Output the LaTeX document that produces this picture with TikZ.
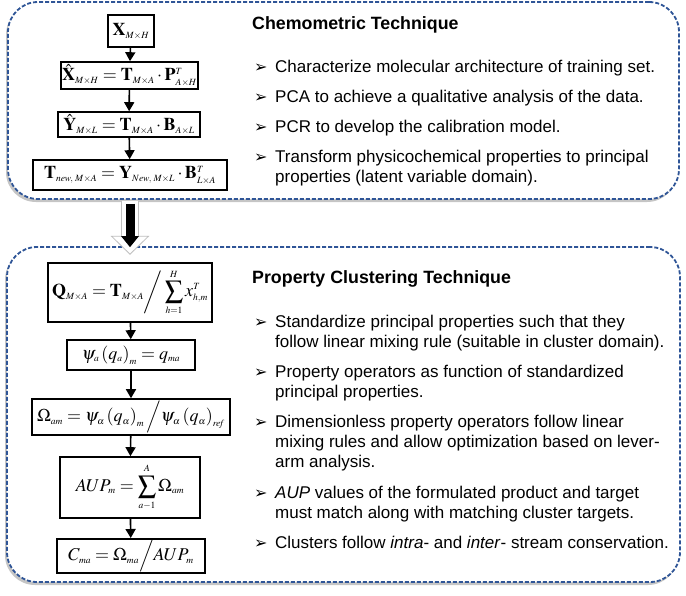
\documentclass[tikz,border=0pt]{standalone}
\usepackage{mathptmx}
\usepackage[no-math]{fontspec}
\setmainfont{Liberation Sans}
\newfontfamily\dejavu{DejaVu Sans}
\usetikzlibrary{arrows.meta,shadows,calc}
\definecolor{dashblue}{RGB}{47,85,151}
\DeclareMathSizes{18}{18}{9.5}{7}
\begin{document}
\begin{tikzpicture}[x=1pt,y=-1pt,
  container/.style={draw=dashblue, line width=1.8pt, dash pattern=on 4pt off 2pt,
    rounded corners=30pt, fill=white, inner sep=0pt,
    drop shadow={shadow xshift=-2pt, shadow yshift=-3pt, fill=black!50, opacity=0.45}},
  fbox/.style={draw=black, line width=1.6pt, fill=white, inner sep=1pt,
    font=\fontsize{18}{21}\selectfont},
  flow/.style={-{Triangle[width=10pt,length=9pt]}, line width=1.6pt},
  halo/.style={fill=white},
  halorim/.style={draw=black!25, line width=0.8pt},
  head/.style={anchor=base west, inner sep=0pt, font=\fontsize{17.8}{20}\selectfont\bfseries},
  item/.style={anchor=base west, inner sep=0pt, font=\fontsize{17}{20}\selectfont},
  bul/.style={anchor=base west, inner sep=0pt, font=\dejavu\fontsize{16}{20}\selectfont}]
\useasboundingbox (0,0) rectangle (686,595);
\fill[white] (0,0) rectangle (686,595);

% containers
\node[container, minimum width=671pt, minimum height=197pt] (chem) at (343.5,100.5) {};
\node[container, minimum width=673pt, minimum height=335pt] (prop) at (343.5,414.5) {};

% top formula boxes
\node[fbox, minimum width=46pt, minimum height=32pt] (t1) at (131,31) {$\mathbf{X}_{M\times H}$};
\node[fbox, minimum width=135pt, minimum height=27pt] (t2) at (129.5,75.5) {$\hat{\mathbf{X}}_{M\times H}=\mathbf{T}_{M\times A}\cdot\mathbf{P}^{T}_{A\times H}$};
\node[fbox, minimum width=142pt, minimum height=25pt] (t3) at (129,124.5) {$\hat{\mathbf{Y}}_{M\times L}=\mathbf{T}_{M\times A}\cdot\mathbf{B}_{A\times L}$};
\node[fbox, minimum width=194pt, minimum height=30pt] (t4) at (130,175) {$\mathbf{T}_{new,\;M\times A}=\mathbf{Y}_{New,\;M\times L}\cdot\mathbf{B}^{T}_{L\times A}$};

\draw[flow] (t1) -- (t2);
\draw[flow] (t2) -- (t3);
\draw[flow] (t3) -- (t4);

% bottom formula boxes
\node[fbox, minimum width=164pt, minimum height=59pt] (q) at (130,292.5) {$\displaystyle\mathbf{Q}_{M\times A}=\mathbf{T}_{M\times A}\bigg/\sum_{h=1}^{H}x^{T}_{h,m}$};
\node[fbox, minimum width=128pt, minimum height=30pt] (psi) at (131,355) {$\psi_{a}\left(q_{a}\right)_{m}=q_{ma}$};
\node[fbox, minimum width=198pt, minimum height=36pt] (om) at (131,417) {$\Omega_{am}=\psi_{\alpha}\left(q_{\alpha}\right)_{m}\Big/\psi_{\alpha}\left(q_{\alpha}\right)_{\mathit{ref}}$};
\node[fbox, minimum width=140pt, minimum height=61pt] (aup) at (130,487.5) {$\displaystyle AUP_{m}=\sum_{a-1}^{A}\Omega_{am}$};
\node[fbox, minimum width=148pt, minimum height=32pt] (c) at (131,556) {$C_{ma}=\Omega_{ma}\Big/AUP_{m}$};

\draw[flow] (q) -- (psi);
\draw[flow] (psi) -- (om);
\draw[flow] (om) -- (aup);
\draw[flow] (aup) -- (c);

% big transfer arrow: white halo with faint rim, then black arrow
\coordinate (hs) at ([yshift=-10pt]t4.south);
\coordinate (he) at ([yshift=8pt]q.north);
\fill[halo] (he) -- ++(-18.5,-18) -- ++(10,0) |- (hs) -| ++(8.5,0) |- ($(he)+(18.5,-18)$) -- cycle;
\draw[halorim] ($(hs)+(-8.5,0)$) |- ($(he)+(-18.5,-18)$) -- (he) -- ($(he)+(18.5,-18)$) -| ($(hs)+(8.5,0)$);
\draw[black, line width=9pt, -{Triangle[width=17pt,length=11pt]}] ([yshift=-13pt]t4.south) -- ([yshift=15pt]q.north);

% top text
\node[head] (h1) at (252,29) {Chemometric Technique};
\node[bul] (ba1) at (254,72) {➢};
\node[item] (a1) at (275,72) {Characterize molecular architecture of training set.};
\node[bul] (ba2) at (254,102) {➢};
\node[item] (a2) at (275,102) {PCA to achieve a qualitative analysis of the data.};
\node[bul] (ba3) at (254,132) {➢};
\node[item] (a3) at (275,132) {PCR to develop the calibration model.};
\node[bul] (ba4) at (254,162) {➢};
\node[item] (a4) at (275,162) {Transform physicochemical properties to principal};
\node[item] (a4b) at (275,182) {properties (latent variable domain).};

% bottom text
\node[head] (h2) at (252,283) {Property Clustering Technique};
\node[bul] (bb1) at (254,327) {➢};
\node[item] (p1) at (275,327) {Standardize principal properties such that they};
\node[item] (p1b) at (275,347) {follow linear mixing rule (suitable in cluster domain).};
\node[bul] (bb2) at (254,377) {➢};
\node[item] (p2) at (275,377) {Property operators as function of standardized};
\node[item] (p2b) at (275,397) {principal properties.};
\node[bul] (bb3) at (254,427) {➢};
\node[item] (p3) at (275,427) {Dimensionless property operators follow linear};
\node[item] (p3b) at (275,447) {mixing rules and allow optimization based on lever-};
\node[item] (p3c) at (275,467) {arm analysis.};
\node[bul] (bb4) at (254,498) {➢};
\node[item] (p4) at (275,498) {\textit{AUP} values of the formulated product and target};
\node[item] (p4b) at (275,518) {must match along with matching cluster targets.};
\node[bul] (bb5) at (254,548) {➢};
\node[item] (p5) at (275,548) {Clusters follow \textit{intra}- and \textit{inter}- stream conservation.};
\end{tikzpicture}
\end{document}
